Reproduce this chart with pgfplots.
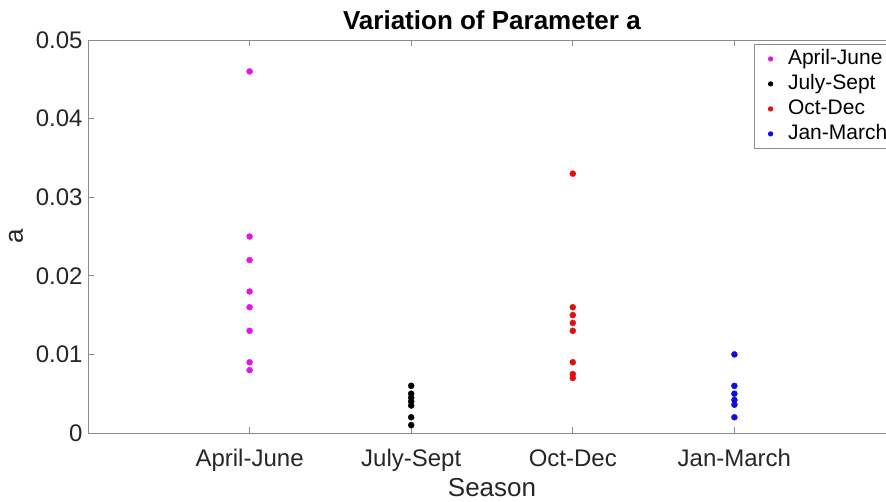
\documentclass[border=0pt]{standalone}
\usepackage{fontspec}
\setmainfont{Liberation Sans}
\usepackage{pgfplots}
\pgfplotsset{compat=1.18}
\definecolor{axgray}{RGB}{140,140,140}
\definecolor{txt}{RGB}{38,38,38}
\definecolor{cmag}{RGB}{230,20,230}
\definecolor{cred}{RGB}{225,15,15}
\definecolor{cblue}{RGB}{15,15,220}
\pgfplotsset{
  dotleg/.style={legend image code/.code={\path (0pt,0pt) (26pt,0pt); \draw[##1, mark size=2.2pt] plot coordinates {(15pt,0pt)};}}
}
\begin{document}
\begin{tikzpicture}
\begin{axis}[
  name=ax,
  scale only axis,
  width=808pt, height=393pt,
  xmin=0, xmax=5, ymin=0, ymax=0.05,
  xtick={1,2,3,4},
  xticklabels={April-June,July-Sept,Oct-Dec,Jan-March},
  ytick={0,0.01,0.02,0.03,0.04,0.05},
  yticklabels={0,0.01,0.02,0.03,0.04,0.05},
  scaled y ticks=false,
  scaled x ticks=false,
  tick align=inside,
  major tick length=6pt,
  axis line style={axgray, line width=0.8pt},
  every tick/.style={axgray, line width=0.8pt},
  tick label style={font=\fontsize{24}{28}\selectfont, text=txt},
  xticklabel style={anchor=base, yshift=-33pt},
  yticklabel style={xshift=-2pt},
  xlabel={Season},
  ylabel={a},
  xlabel style={font=\fontsize{26}{30}\selectfont, text=txt, at={(axis description cs:0.5,-0.1628)}, anchor=base},
  ylabel style={font=\fontsize{26}{30}\selectfont, text=txt, at={(axis description cs:-0.089,0.5)}, anchor=center},
  title={\textbf{Variation of Parameter a}},
  title style={font=\fontsize{26}{30}\selectfont, text=black, at={(axis description cs:0.5,1.0127)}, anchor=base},
  legend style={at={(axis description cs:0.824,0.9898)}, anchor=north west, draw=axgray, line width=0.8pt,
    font=\fontsize{21}{25}\selectfont, text=black, inner xsep=1pt, inner ysep=2pt,
    nodes={inner xsep=6pt, inner ysep=2pt, text height=16pt, text depth=5pt}},
  legend cell align=left,
]
\addplot[only marks, mark=*, mark size=3pt, color=cmag, dotleg] coordinates {
  (1,0.046) (1,0.025) (1,0.022) (1,0.018) (1,0.016) (1,0.013) (1,0.009) (1,0.008)};
\addlegendentry{April-June}
\addplot[only marks, mark=*, mark size=3pt, color=black, dotleg] coordinates {
  (2,0.006) (2,0.005) (2,0.0045) (2,0.004) (2,0.0035) (2,0.002) (2,0.001)};
\addlegendentry{July-Sept}
\addplot[only marks, mark=*, mark size=3pt, color=cred, dotleg] coordinates {
  (3,0.033) (3,0.016) (3,0.015) (3,0.014) (3,0.013) (3,0.009) (3,0.0075) (3,0.007)};
\addlegendentry{Oct-Dec}
\addplot[only marks, mark=*, mark size=3pt, color=cblue, dotleg] coordinates {
  (4,0.010) (4,0.006) (4,0.005) (4,0.0042) (4,0.0036) (4,0.002)};
\addlegendentry{Jan-March}
\end{axis}
\pgfresetboundingbox
\path ([shift={(-88pt,-68pt)}]ax.south west) rectangle ++(886pt,501pt);
\end{tikzpicture}
\end{document}
